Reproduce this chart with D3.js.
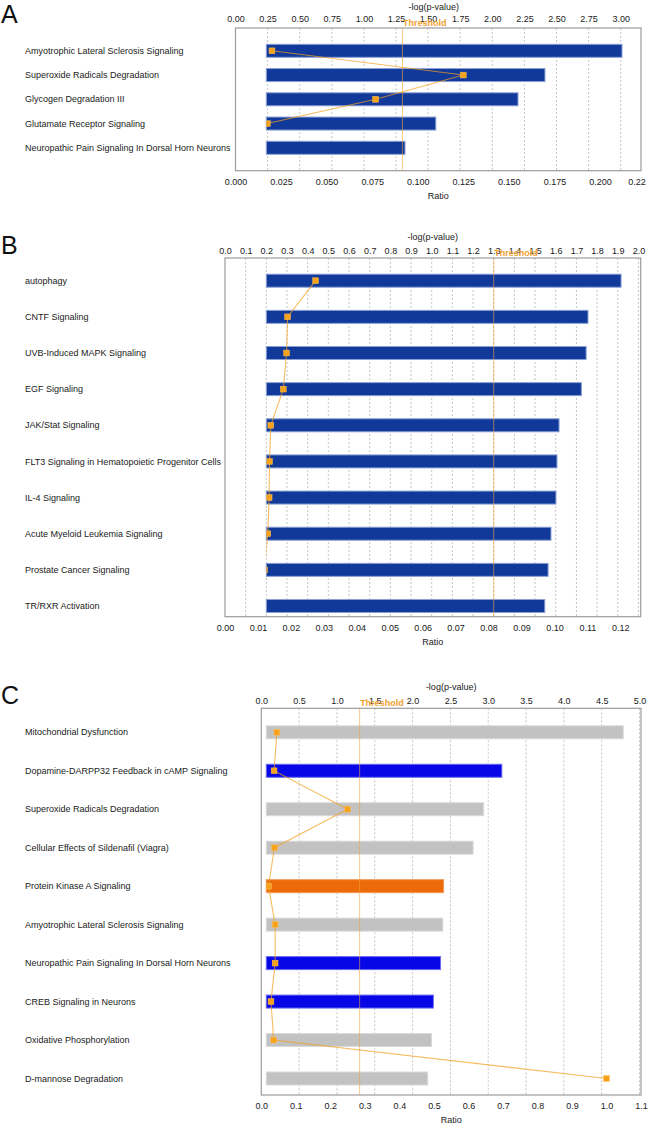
<!DOCTYPE html>
<html><head><meta charset="utf-8">
<script src="https://cdn.jsdelivr.net/npm/d3@7"></script>
<style>
html,body{margin:0;padding:0;background:#fff;}
svg{display:block;font-family:"Liberation Sans",Arial,sans-serif;}
</style></head><body>
<svg id="chart" width="650" height="1128"></svg>
<script>
// ---------- Panel A data ----------
const categoriesA = ["Amyotrophic Lateral Sclerosis Signaling","Superoxide Radicals Degradation","Glycogen Degradation III","Glutamate Receptor Signaling","Neuropathic Pain Signaling In Dorsal Horn Neurons"];
const logPA = [3.01, 2.41, 2.20, 1.56, 1.32];
const ratioA = [0.0200, 0.125, 0.0769, 0.0175, 0.0100];
const directionA = ["none","none","none","none","none"];
const topTicksA = ["0.00","0.25","0.50","0.75","1.00","1.25","1.50","1.75","2.00","2.25","2.50","2.75","3.00"];
const bottomTicksA = ["0.000","0.025","0.050","0.075","0.100","0.125","0.150","0.175","0.200","0.22"];

// ---------- Panel B data ----------
const categoriesB = ["autophagy","CNTF Signaling","UVB-Induced MAPK Signaling","EGF Signaling","JAK/Stat Signaling","FLT3 Signaling in Hematopoietic Progenitor Cells","IL-4 Signaling","Acute Myeloid Leukemia Signaling","Prostate Cancer Signaling","TR/RXR Activation"];
const logPB = [1.916, 1.756, 1.747, 1.724, 1.616, 1.606, 1.601, 1.577, 1.563, 1.547];
const ratioB = [0.0275, 0.0190, 0.0187, 0.0177, 0.0139, 0.0135, 0.0134, 0.0130, 0.0120, 0.0105];
const directionB = ["none","none","none","none","none","none","none","none","none","none"];
const topTicksB = ["0.0","0.1","0.2","0.3","0.4","0.5","0.6","0.7","0.8","0.9","1.0","1.1","1.2","1.3","1.4","1.5","1.6","1.7","1.8","1.9","2.0"];
const bottomTicksB = ["0.00","0.01","0.02","0.03","0.04","0.05","0.06","0.07","0.08","0.09","0.10","0.11","0.12"];

// ---------- Panel C data ----------
const categoriesC = ["Mitochondrial Dysfunction","Dopamine-DARPP32 Feedback in cAMP Signaling","Superoxide Radicals Degradation","Cellular Effects of Sildenafil (Viagra)","Protein Kinase A Signaling","Amyotrophic Lateral Sclerosis Signaling","Neuropathic Pain Signaling In Dorsal Horn Neurons","CREB Signaling in Neurons","Oxidative Phosphorylation","D-mannose Degradation"];
const logPC = [4.785, 3.18, 2.94, 2.80, 2.41, 2.40, 2.37, 2.275, 2.25, 2.20];
const ratioC = [0.045, 0.037, 0.25, 0.038, 0.021, 0.040, 0.040, 0.028, 0.036, 1.0];
const directionC = ["none","down","none","none","up","none","down","down","none","none"];
const topTicksC = ["0.0","0.5","1.0","1.5","2.0","2.5","3.0","3.5","4.0","4.5","5.0"];
const bottomTicksC = ["0.0","0.1","0.2","0.3","0.4","0.5","0.6","0.7","0.8","0.9","1.0","1.1"];

const thresholdValue = 1.3;
const panelLetters = ["A","B","C"];

// ---------- layout & styles ----------
const layouts = [
  {top:28, bottom:170.7, left:235.5, right:641, first:50.8, last:147.8, topMax:3.158, botMax:0.2225, base:0.24, titleDx:-4.5, letterY:23, topPad:5.6},
  {top:258, bottom:616.7, left:225, right:640.7, first:280.7, last:606, topMax:2.011, botMax:0.1262, base:0.2, titleDx:0, letterY:254, topPad:4.3},
  {top:708.3, bottom:1095, left:261.3, right:641, first:732.3, last:1078.5, topMax:5.02, botMax:1.1, base:0.066, titleDx:0, letterY:704, topPad:4.3}
];
const fills = {none:"#10399a", up:"#ec6a08", down:"#0606e6", gray:"#c2c2c2"};
const strokes = {none:"#8aa0d4", up:"#f09a5a", down:"#6a6af2", gray:"#dadada"};

const panels = [
  {cats:categoriesA, logp:logPA, ratio:ratioA, dir:directionA, topT:topTicksA, botT:bottomTicksA, gray:false},
  {cats:categoriesB, logp:logPB, ratio:ratioB, dir:directionB, topT:topTicksB, botT:bottomTicksB, gray:false},
  {cats:categoriesC, logp:logPC, ratio:ratioC, dir:directionC, topT:topTicksC, botT:bottomTicksC, gray:true}
];

const svg = d3.select("#chart");
const FS = 9;

panels.forEach((p, i) => {
  const L = layouts[i];
  const g = svg.append("g");
  const xTop = d3.scaleLinear().domain([0, L.topMax]).range([L.left, L.right]);
  const xBot = d3.scaleLinear().domain([0, L.botMax]).range([L.left, L.right]);
  const y = d3.scalePoint().domain(p.cats).range([L.first, L.last]);
  const barH = 13;

  // panel letter
  svg.append("text").attr("x", 1).attr("y", L.letterY)
    .attr("font-size", 25).attr("fill", "#111").text(panelLetters[i]);

  // gridlines
  const topVals = p.topT.map(Number);
  g.append("g").selectAll("line").data(topVals.filter(v => v > 0)).join("line")
    .attr("x1", d => xTop(d)).attr("x2", d => xTop(d))
    .attr("y1", L.top).attr("y2", L.bottom)
    .attr("stroke", "#c4c4c4").attr("stroke-width", 1).attr("stroke-dasharray", "2,2");

  // bars
  g.append("g").selectAll("rect").data(p.cats).join("rect")
    .attr("x", xTop(L.base))
    .attr("y", d => y(d) - barH / 2)
    .attr("width", (d, j) => xTop(p.logp[j]) - xTop(L.base))
    .attr("height", barH)
    .attr("fill", (d, j) => {
      const k = p.dir[j];
      return p.gray ? (k === "none" ? fills.gray : fills[k]) : fills.none;
    })
    .attr("stroke", (d, j) => {
      const k = p.dir[j];
      return p.gray ? (k === "none" ? strokes.gray : strokes[k]) : strokes.none;
    })
    .attr("stroke-width", 1);

  // threshold line
  const xt = xTop(thresholdValue);
  g.append("line").attr("x1", xt).attr("x2", xt).attr("y1", L.top).attr("y2", L.bottom)
    .attr("stroke", "#f2a43c").attr("stroke-width", 1).attr("stroke-opacity", 0.6);

  // ratio line (clipped at bar start)
  const clipId = "clip" + i;
  svg.append("defs").append("clipPath").attr("id", clipId).append("rect")
    .attr("x", xTop(L.base)).attr("y", L.top).attr("width", L.right - xTop(L.base)).attr("height", L.bottom - L.top);
  const lg = g.append("g").attr("clip-path", `url(#${clipId})`);
  const line = d3.line().x((d, j) => xBot(p.ratio[j])).y(d => y(d));
  lg.append("path").datum(p.cats).attr("d", line)
    .attr("fill", "none").attr("stroke", "#f3a020").attr("stroke-width", 1.1).attr("stroke-opacity", 0.7);
  const ms = 5.8;
  lg.selectAll("rect").data(p.cats).join("rect")
    .attr("x", (d, j) => xBot(p.ratio[j]) - ms / 2)
    .attr("y", d => y(d) - ms / 2)
    .attr("width", ms).attr("height", ms)
    .attr("fill", "#f7a21b").attr("stroke", "#fbbf5a").attr("stroke-width", 0.5);

  // plot border
  g.append("rect").attr("x", L.left).attr("y", L.top)
    .attr("width", L.right - L.left).attr("height", L.bottom - L.top)
    .attr("fill", "none").attr("stroke", "#9c9c9c").attr("stroke-width", 1.2);

  // category labels
  g.append("g").selectAll("text").data(p.cats).join("text")
    .attr("x", 25).attr("y", d => y(d)).attr("dy", "0.35em")
    .attr("font-size", FS).attr("fill", "#1a1a1a").text(d => d);

  // top axis
  const axT = d3.axisTop(xTop).tickValues(topVals).tickFormat((d, j) => p.topT[j]).tickSize(0).tickPadding(L.topPad);
  const gT = g.append("g").attr("transform", `translate(0,${L.top})`).call(axT);
  gT.select(".domain").remove();
  gT.selectAll("text").attr("font-size", FS).attr("font-family", null).attr("fill", "#1a1a1a");

  // bottom axis
  const botVals = p.botT.map(Number);
  const axB = d3.axisBottom(xBot).tickValues(botVals).tickFormat((d, j) => p.botT[j]).tickSize(0).tickPadding(7.5);
  const gB = g.append("g").attr("transform", `translate(0,${L.bottom})`).call(axB);
  gB.select(".domain").remove();
  gB.selectAll("text").attr("font-size", FS).attr("font-family", null).attr("fill", "#1a1a1a");

  // axis titles
  const cx = (L.left + L.right) / 2;
  g.append("text").attr("x", cx + L.titleDx).attr("y", L.top - 18.5).attr("text-anchor", "middle")
    .attr("font-size", FS).attr("fill", "#1a1a1a").text("-log(p-value)");
  g.append("text").attr("x", cx).attr("y", L.bottom + 28).attr("text-anchor", "middle")
    .attr("font-size", FS).attr("fill", "#1a1a1a").text("Ratio");

  // threshold label
  g.append("text").attr("x", xt + 0.5).attr("y", L.top - 2)
    .attr("font-size", FS).attr("font-weight", "bold").attr("fill", "#f0a030").text("Threshold");
});
</script>
</body></html>
